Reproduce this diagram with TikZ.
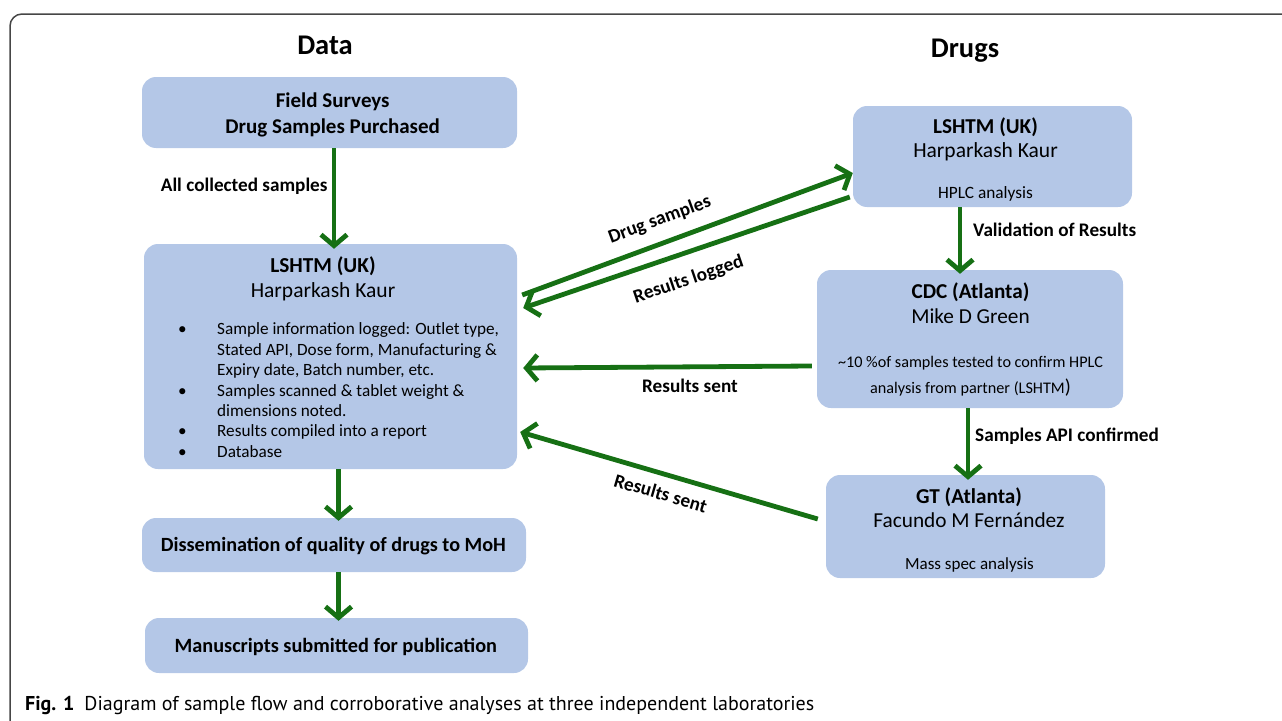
\documentclass[tikz,border=0pt]{standalone}
\usepackage{fontspec}
\setmainfont{Carlito}
\newfontfamily\capfont{PT Sans}
\usetikzlibrary{arrows.meta}
\definecolor{boxblue}{RGB}{180,199,231}
\definecolor{dgreen}{RGB}{22,112,20}
\definecolor{framegray}{RGB}{70,70,70}
\newcommand\myfs[1]{\fontsize{#1}{#1}\selectfont}
\tikzset{
  box/.style={fill=boxblue, rounded corners=14pt, inner sep=0pt, draw=none},
  t/.style={anchor=base, inner sep=0pt},
  arr/.style={draw=dgreen, line width=4.8pt, -{Straight Barb[length=11pt,width=26pt]}},
  lbl/.style={inner sep=0pt, font=\myfs{19.2}\bfseries},
}
\begin{document}
\begin{tikzpicture}[x=1pt,y=-1pt]
\useasboundingbox (0,0) rectangle (1282,720);
\draw[framegray, line width=1.5pt, rounded corners=12pt] (10,760) -- (10,14) -- (1320,14);

% headers
\node[t, font=\myfs{28.5}\bfseries] (hdata) at (325,54) {Data};
\node[t, font=\myfs{28.5}\bfseries] (hdrugs) at (965,57) {Drugs};

% boxes
\node[box, minimum width=375pt, minimum height=71pt] (field) at (329.5,112.5) {};
\node[box, minimum width=373pt, minimum height=225pt] (lshtmL) at (330.5,356.5) {};
\node[box, minimum width=384pt, minimum height=54pt] (diss) at (334,545) {};
\node[box, minimum width=383pt, minimum height=55pt] (manu) at (336.5,645.5) {};
\node[box, minimum width=279pt, minimum height=101pt] (lshtmR) at (992.5,156.5) {};
\node[box, minimum width=306pt, minimum height=138pt] (cdc) at (970,339) {};
\node[box, minimum width=279pt, minimum height=103pt] (gt) at (965.5,526.5) {};

% field text
\node[t, font=\myfs{21}\bfseries] (fieldA) at (332.7,107.7) {Field Surveys};
\node[t, font=\myfs{21}\bfseries] (fieldB) at (332.7,133.3) {Drug Samples Purchased};

% left LSHTM text
\node[t, font=\myfs{21.3}\bfseries] (lA) at (323,272) {LSHTM (UK)};
\node[t, font=\myfs{21.5}] (lB) at (323,297) {Harparkash Kaur};
\begin{scope}[every node/.style={anchor=base west, inner sep=0pt, font=\myfs{17.2}}]
\node (b1) at (178,334.5) {•};
\node (b2) at (178,396) {•};
\node (b3) at (178,436.7) {•};
\node (b4) at (178,457) {•};
\node (l1) at (217,334.5) {Sample information logged: Outlet type,};
\node (l2) at (217,355) {Stated API, Dose form, Manufacturing \&};
\node (l3) at (217,375.3) {Expiry date, Batch number, etc.};
\node (l4) at (217,396) {Samples scanned \& tablet weight \&};
\node (l5) at (217,416) {dimensions noted.};
\node (l6) at (217,436.7) {Results compiled into a report};
\node (l7) at (217,457) {Database};
\end{scope}

% bottom boxes text
\node[t, font=\myfs{20.2}\bfseries] (dissT) at (333.4,551.7) {Dissemination of quality of drugs to MoH};
\node[t, font=\myfs{20.3}\bfseries] (manuT) at (335.8,652.3) {Manuscripts submitted for publication};

% right LSHTM
\node[t, font=\myfs{21.2}\bfseries] (rA) at (985.5,133) {LSHTM (UK)};
\node[t, font=\myfs{21.5}] (rB) at (985.5,157) {Harparkash Kaur};
\node[t, font=\myfs{17.3}] (rC) at (985.5,198) {HPLC analysis};

% CDC
\node[t, font=\myfs{21.2}\bfseries] (cA) at (970.5,298) {CDC (Atlanta)};
\node[t, font=\myfs{21.3}] (cB) at (970.5,323) {Mike D Green};
\node[t, font=\myfs{16.2}] (cC) at (970.5,367) {\textasciitilde10 \%of samples tested to confirm HPLC};
\node[t, font=\myfs{16.2}] (cD) at (970.5,393) {analysis from partner (LSHTM{\myfs{20})}};

% GT
\node[t, font=\myfs{21.2}\bfseries] (gA) at (969,503.3) {GT (Atlanta)};
\node[t, font=\myfs{21.3}] (gB) at (969,527.3) {Facundo M Fernández};
\node[t, font=\myfs{17}] (gC) at (969.5,569) {Mass spec analysis};

% arrows
\draw[arr] (field.south -| 334,0) -- ([yshift=-5pt]lshtmL.north -| 334,0);
\node[lbl, anchor=base] (lblAll) at (244.2,191.7) {All collected samples};

\draw[arr] ([shift={(5,-61.5)}]lshtmL.east) -- node[lbl, sloped, above=12pt, pos=0.44] (lblDrug) {Drug samples} ([shift={(0,16.5)}]lshtmR.west);
\draw[arr] ([shift={(-3,40.5)}]lshtmR.west) -- node[lbl, sloped, below=16pt, pos=0.52] (lblLog) {Results logged} ([shift={(6,-48.5)}]lshtmL.east);

\draw[arr] (lshtmR.south -| 960,0) -- ([yshift=-4pt]cdc.north -| 960,0);
\node[lbl, anchor=base west] (lblVal) at (973,236) {Validation of Results};

\draw[arr] ([shift={(-5,27)}]cdc.west) -- ([shift={(6,11.5)}]lshtmL.east);
\node[lbl, anchor=base] (lblRS1) at (690,392) {Results sent};

\draw[arr] (cdc.south -| 968,0) -- ([yshift=-5pt]gt.north -| 968,0);
\node[lbl, anchor=base west] (lblAPI) at (975,441) {Samples API confirmed};

\draw[arr] ([shift={(-8,-7.5)}]gt.west) -- node[lbl, sloped, below=10pt, pos=0.51] (lblRS2) {Results sent} ([shift={(3,75.5)}]lshtmL.east);

\draw[arr] (lshtmL.south -| 338.5,0) -- ([yshift=-3pt]diss.north -| 338.5,0);
\draw[arr] (diss.south -| 338.5,0) -- ([yshift=-3pt]manu.north -| 338.5,0);

% caption
\node[anchor=base west, inner sep=0pt, font=\capfont\myfs{20}] (cap) at (25,710) {\textbf{Fig. 1}\hspace{10pt}Diagram of sample flow and corroborative analyses at three independent laboratories};
\end{tikzpicture}
\end{document}
